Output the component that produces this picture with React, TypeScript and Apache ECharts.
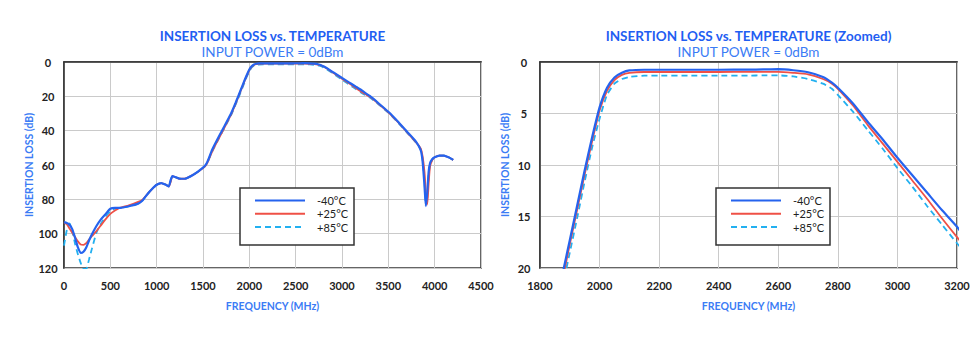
import React, { useEffect, useRef } from 'react';
import * as echarts from 'echarts';

const FREQ = [
  0, 30, 60, 90, 120, 150, 180, 210, 240, 270,
  300, 350, 400, 450, 500, 550, 600, 700, 800, 850,
  900, 950, 1000, 1050, 1100, 1130, 1150, 1170, 1200, 1250,
  1300, 1400, 1500, 1540, 1600, 1700, 1800, 1850, 1880, 1900,
  1925, 1950, 1975, 2000, 2025, 2050, 2075, 2100, 2150, 2200,
  2300, 2400, 2500, 2550, 2600, 2650, 2700, 2750, 2780, 2800,
  2850, 2900, 2950, 3000, 3050, 3100, 3150, 3200, 3250, 3300,
  3400, 3500, 3600, 3700, 3800, 3850, 3870, 3890, 3905, 3920,
  3935, 3950, 3975, 4000, 4050, 4100, 4150, 4200,
];

const LOSS_M40 = [
  93.3, 93.8, 94.8, 97.5, 102.5, 108, 111.2, 110.5, 108, 104,
  100.5, 95.5, 91.5, 88.5, 85.5, 85, 85, 84, 82.5, 80.5,
  77, 74, 71.5, 70.5, 71.5, 72.5, 69, 66.5, 67, 68,
  68, 65.5, 61.5, 59, 51, 40.5, 30.3, 24, 20, 17.3,
  13.9, 10.5, 7.3, 4.4, 2.5, 1.5, 1.05, 0.82, 0.75, 0.75,
  0.75, 0.75, 0.74, 0.72, 0.7, 0.8, 1.0, 1.45, 2.0, 2.5,
  4.0, 5.8, 7.5, 9.3, 11.0, 12.7, 14.4, 16.0, 18, 19.8,
  24.3, 29, 34.5, 40.5, 46.5, 51.5, 58, 72, 84, 76,
  64, 59, 56.5, 55.5, 54.5, 54.5, 55.5, 57,
];

const LOSS_P25 = [
  93.3, 94.5, 97, 99.5, 102, 104.5, 106.3, 106.5, 105.5, 103.5,
  101.5, 98.5, 95, 91.5, 88.5, 86.5, 85, 83.5, 81.5, 80,
  77, 74, 71.5, 70.5, 71.5, 72.5, 70, 66.5, 67, 68,
  68, 65.5, 61.8, 59.5, 52, 41.5, 31, 24.6, 20.5, 17.7,
  14.3, 10.9, 7.7, 4.7, 2.8, 1.75, 1.25, 1.05, 0.97, 0.97,
  0.97, 0.97, 0.96, 0.95, 0.95, 1.05, 1.2, 1.65, 2.1, 2.6,
  4.2, 6.1, 7.9, 9.7, 11.5, 13.3, 15.2, 17.0, 18.7, 20.3,
  24.6, 29.3, 34.8, 40.8, 46.8, 50.5, 55, 64, 76, 83,
  71, 61, 57, 55.5, 54.5, 54.5, 55.5, 57,
];

const LOSS_P85 = [
  107, 98, 94, 99, 106, 112, 117, 120.5, 120.5, 115,
  109, 99.5, 94, 90, 87, 85.5, 85, 84, 82.5, 80.5,
  77, 74, 71.5, 70.5, 71.5, 72.5, 69.5, 66.5, 67, 68,
  68, 65.5, 61.8, 59.5, 52, 41.5, 31.3, 25, 21.2, 18.5,
  15.1, 11.6, 8.3, 5.5, 3.2, 2.1, 1.65, 1.45, 1.33, 1.33,
  1.33, 1.33, 1.32, 1.3, 1.3, 1.4, 1.65, 2.1, 2.6, 3.2,
  4.8, 6.6, 8.4, 10.3, 12.1, 14.0, 15.8, 17.6, 19.2, 20.7,
  24.9, 29.5, 35, 41, 47, 51, 57, 69, 82, 79,
  66, 60, 56.8, 55.5, 54.5, 54.5, 55.5, 57,
];

const SERIES_NAMES = ['-40°C', '+25°C', '+85°C'];
const TITLES = ['INSERTION LOSS vs. TEMPERATURE', 'INSERTION LOSS vs. TEMPERATURE (Zoomed)'];
const SUBTITLE = 'INPUT POWER = 0dBm';
const X_NAME = 'FREQUENCY (MHz)';
const Y_NAME = 'INSERTION LOSS (dB)';

const X_RANGES = [
  { min: 0, max: 4500, interval: 500 },
  { min: 1800, max: 3200, interval: 200 },
];
const Y_RANGES = [
  { min: 0, max: 120, interval: 20 },
  { min: 0, max: 20, interval: 5 },
];

const BLUE = '#2563ee';
const RED = '#ef5046';
const CYAN = '#22b0f0';
const TITLE_BLUE = '#1f5ef2';
const SUB_BLUE = '#3b7cf5';
const FONT = 'Lato, "Open Sans", sans-serif';

export default function App() {
  const ref = useRef<HTMLDivElement>(null);

  useEffect(() => {
    document.body.style.margin = '0';
    const chart = echarts.init(ref.current as HTMLDivElement, null, { renderer: 'svg' });

    const grids = [
      { left: 64, top: 62, width: 417, height: 206 },
      { left: 540, top: 62, width: 417, height: 206 },
    ];
    const centers = grids.map((g) => g.left + g.width / 2);

    const lineStyles: any[] = [
      { color: BLUE, width: 2.2, type: 'solid' },
      { color: RED, width: 1.8, type: 'solid' },
      { color: CYAN, width: 1.8, type: [6, 4] },
    ];
    const zOrder = [5, 4, 3];
    const valueSets = [LOSS_M40, LOSS_P25, LOSS_P85];
    const series: any[] = [];
    for (let g = 0; g < 2; g++) {
      valueSets.forEach((vals, k) => {
        series.push({
          type: 'line',
          name: SERIES_NAMES[k],
          xAxisIndex: g,
          yAxisIndex: g,
          data: FREQ.map((f, i) => [f, vals[i]]),
          symbol: 'none',
          showSymbol: false,
          smooth: 0.2,
          lineStyle: lineStyles[k],
          itemStyle: { color: lineStyles[k].color },
          z: zOrder[k],
        });
      });
    }

    const axisLabel = {
      color: '#222',
      fontFamily: FONT,
      fontWeight: 'bold',
      fontSize: 11,
      formatter: (v: number) => String(v),
    };
    const nameStyle = { color: SUB_BLUE, fontFamily: FONT, fontWeight: 'bold', fontSize: 10.5 };

    const xAxis = X_RANGES.map((r, g) => ({
      type: 'value',
      gridIndex: g,
      min: r.min,
      max: r.max,
      interval: r.interval,
      name: X_NAME,
      nameLocation: 'middle',
      nameGap: 32,
      nameTextStyle: nameStyle,
      axisLine: { show: true, lineStyle: { color: '#333', width: 1.5 } },
      axisTick: { show: false },
      axisLabel: { ...axisLabel, margin: 12, showMinLabel: true, showMaxLabel: true },
      splitLine: { show: true, lineStyle: { color: '#cacaca', width: 1 } },
    }));

    const yAxis = Y_RANGES.map((r, g) => ({
      type: 'value',
      gridIndex: g,
      min: r.min,
      max: r.max,
      interval: r.interval,
      inverse: true,
      name: Y_NAME,
      nameLocation: 'middle',
      nameGap: 30,
      nameRotate: 90,
      nameTextStyle: nameStyle,
      axisLine: { show: true, lineStyle: { color: '#333', width: 1.5 } },
      axisTick: { show: false },
      axisLabel: { ...axisLabel, margin: 16, align: 'center' },
      splitLine: { show: true, lineStyle: { color: '#cacaca', width: 1 } },
    }));

    const legendBoxes = [
      { x: 240, y: 188 },
      { x: 716, y: 188 },
    ];

    const graphic: any[] = [];
    grids.forEach((g, i) => {
      graphic.push({
        type: 'text',
        x: centers[i],
        y: 36,
        style: {
          text: TITLES[i],
          fill: TITLE_BLUE,
          font: `bold 13.5px ${FONT}`,
          textAlign: 'center',
          textVerticalAlign: 'middle',
        },
      });
      graphic.push({
        type: 'text',
        x: centers[i],
        y: 51.5,
        style: {
          text: SUBTITLE,
          fill: SUB_BLUE,
          font: `13.5px ${FONT}`,
          textAlign: 'center',
          textVerticalAlign: 'middle',
        },
      });
      graphic.push({
        type: 'rect',
        shape: { x: legendBoxes[i].x, y: legendBoxes[i].y, width: 114, height: 57 },
        style: { fill: '#fff', stroke: '#333', lineWidth: 1.5 },
        z: 6,
      });
    });

    const legend = legendBoxes.map((b) => ({
      orient: 'vertical',
      left: b.x + 14,
      top: b.y + 7,
      padding: 0,
      itemWidth: 50,
      itemHeight: 14,
      itemGap: 2,
      z: 10,
      data: SERIES_NAMES,
      itemStyle: { opacity: 0 },
      textStyle: { color: '#222', fontFamily: FONT, fontSize: 11, padding: [0, 0, 0, 7] },
    }));

    chart.setOption({
      animation: false,
      backgroundColor: '#fff',
      grid: grids.map((g) => ({ ...g, show: true, borderColor: '#333', borderWidth: 1.5, backgroundColor: 'transparent' })),
      xAxis,
      yAxis,
      legend,
      graphic,
      series,
    } as any);

    return () => chart.dispose();
  }, []);

  return <div ref={ref} style={{ position: 'absolute', left: 0, top: 0, width: 979, height: 350 }} />;
}
